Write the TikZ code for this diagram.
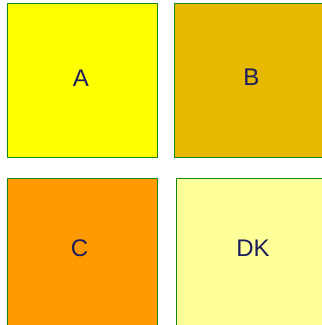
\documentclass[tikz,border=0pt]{standalone}
\usepackage{fontspec}
\setmainfont{Liberation Sans}
\definecolor{boxA}{HTML}{FFFF00}
\definecolor{boxB}{HTML}{E6B800}
\definecolor{boxC}{HTML}{FF9900}
\definecolor{boxDK}{HTML}{FFFF99}
\definecolor{edgegreen}{HTML}{168A16}
\definecolor{inkblue}{HTML}{1C1C5C}

\begin{document}
\begin{tikzpicture}[x=1pt,y=-1pt,
  tile/.style={draw=edgegreen, line width=1pt, anchor=north west,
    minimum width=150pt, minimum height=154pt, inner sep=0pt, outer sep=0pt},
  tag/.style={text=inkblue, font=\fontsize{24}{28}\selectfont, inner sep=0pt}]
  \useasboundingbox (0,0) rectangle (322,325);
  \clip (0,0) rectangle (322,325);

  % the four tiles
  \node[tile, fill=boxA]  (tileA)  at (8,3) {};
  \node[tile, fill=boxB]  (tileB)  at (175,3) {};
  \node[tile, fill=boxC]  (tileC)  at (8,178) {};
  \node[tile, fill=boxDK] (tileDK) at (177,178) {};

  % their letters
  \node[tag] (lblA)  at (81,78) {A};
  \node[tag] (lblB)  at (251.5,77.5) {B};
  \node[tag] (lblC)  at (79.5,248.5) {C};
  \node[tag] (lblDK) at (253,248.5) {DK};
\end{tikzpicture}
\end{document}
